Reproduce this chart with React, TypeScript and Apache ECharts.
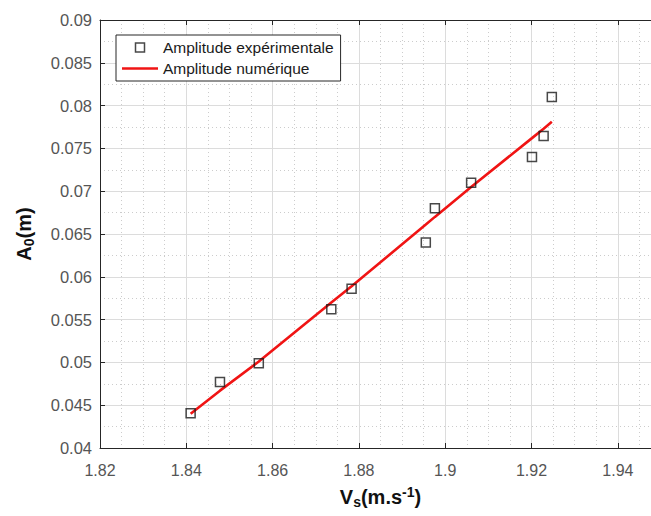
import React, { useEffect, useRef } from "react";
import * as echarts from "echarts";

const xExp = [1.841, 1.8478, 1.8568, 1.8736, 1.8783, 1.8955, 1.8976, 1.906, 1.9201, 1.9228, 1.9247];
const yExp = [0.04405, 0.0477, 0.0499, 0.0562, 0.0586, 0.064, 0.068, 0.071, 0.074, 0.07645, 0.081];
const yNum = [0.044, 0.0467, 0.0501, 0.057, 0.0589, 0.0661, 0.067, 0.0705, 0.0762, 0.0773, 0.0781];

const seriesNames = ["Amplitude expérimentale", "Amplitude numérique"];

const X_MIN = 1.82;
const X_MAX = 1.95;
const X_STEP = 0.02;
const Y_MIN = 0.04;
const Y_MAX = 0.09;
const Y_STEP = 0.005;

export default function App() {
  const ref = useRef<HTMLDivElement>(null);
  useEffect(() => {
    if (!ref.current) return;
    const chart = echarts.init(ref.current, undefined, { renderer: "svg" });
    const axisColor = "#262626";
    const labelColor = "#555555";
    const font = "Liberation Sans, Arial, Helvetica, sans-serif";
    const red = "#f01414";
    const majorGrid = { show: true, lineStyle: { color: "#dcdcdc", width: 1, type: "solid" as const } };
    const minorGrid = { show: true, lineStyle: { color: "#cccccc", width: 1, type: [1, 3] as any } };
    const nameRich = {
      b: { fontSize: 20, fontWeight: "bold", color: "#111", lineHeight: 24, fontFamily: font },
      sub: { fontSize: 14, fontWeight: "bold", color: "#111", lineHeight: 14, padding: [10, 0, 0, 0], fontFamily: font },
      sup: { fontSize: 14, fontWeight: "bold", color: "#111", lineHeight: 14, padding: [0, 0, 10, 0], fontFamily: font },
    };
    chart.setOption({
      animation: false,
      backgroundColor: "#ffffff",
      textStyle: { fontFamily: font },
      grid: { left: 100, top: 20, right: 0, bottom: 68, containLabel: false },
      legend: {
        orient: "vertical",
        left: 116,
        top: 35,
        padding: [4, 7, 4, 6],
        itemGap: 4,
        itemWidth: 36,
        itemHeight: 9,
        symbolKeepAspect: true,
        borderColor: axisColor,
        borderWidth: 1,
        borderRadius: 0,
        backgroundColor: "#ffffff",
        textStyle: { fontSize: 15.5, lineHeight: 17, color: "#1a1a1a", fontFamily: font },
        data: [
          {
            name: seriesNames[0],
            icon: "path://M0,0L10,0L10,10L0,10Z",
            itemStyle: { color: "rgba(0,0,0,0)", borderColor: "#1a1a1a", borderWidth: 1.5 },
          },
          {
            name: seriesNames[1],
            icon: "path://M0,0L36,0L36,2.6L0,2.6Z",
            itemStyle: { color: red, borderWidth: 0 },
          },
        ],
      },
      xAxis: [
        {
          type: "value",
          min: X_MIN,
          max: X_MAX,
          interval: X_STEP,
          position: "bottom",
          axisLine: { show: true, onZero: false, lineStyle: { color: axisColor, width: 1 } },
          axisTick: { show: true, inside: true, length: 5, lineStyle: { color: axisColor } },
          axisLabel: { color: labelColor, fontSize: 16, margin: 14, fontFamily: font, showMaxLabel: false },
          splitLine: majorGrid,
          minorTick: { show: false, splitNumber: 4 },
          minorSplitLine: minorGrid,
          name: "{b|V}{sub|s}{b|(m.s}{sup|-1}{b|)}",
          nameLocation: "middle",
          nameGap: 37,
          nameTextStyle: { rich: nameRich },
        },
        {
          type: "value",
          min: X_MIN,
          max: X_MAX,
          interval: X_STEP,
          position: "top",
          axisLine: { show: true, onZero: false, lineStyle: { color: axisColor, width: 1 } },
          axisTick: { show: true, inside: true, length: 5, lineStyle: { color: axisColor } },
          axisLabel: { show: false },
          splitLine: { show: false },
        },
      ],
      yAxis: [
        {
          type: "value",
          min: Y_MIN,
          max: Y_MAX,
          interval: Y_STEP,
          axisLine: { show: true, onZero: false, lineStyle: { color: axisColor, width: 1 } },
          axisTick: { show: true, inside: true, length: 5, lineStyle: { color: axisColor } },
          axisLabel: { color: labelColor, fontSize: 16.5, margin: 8, fontFamily: font },
          splitLine: majorGrid,
          minorTick: { show: false, splitNumber: 2 },
          minorSplitLine: minorGrid,
          name: "{b|A}{sub|0}{b|(m)}",
          nameLocation: "middle",
          nameRotate: 90,
          nameGap: 64,
          nameTextStyle: { rich: nameRich },
        },
      ],
      series: [
        {
          name: seriesNames[1],
          type: "line",
          data: xExp.map((x, i) => [x, yNum[i]]),
          showSymbol: false,
          symbol: "none",
          lineStyle: { color: red, width: 2.6 },
          itemStyle: { color: red },
          z: 2,
        },
        {
          name: seriesNames[0],
          type: "scatter",
          data: xExp.map((x, i) => [x, yExp[i]]),
          symbol: "rect",
          symbolSize: 9,
          itemStyle: { color: "rgba(0,0,0,0)", borderColor: "#1a1a1a", borderWidth: 1.5 },
          z: 3,
        },
      ],
    });
    return () => chart.dispose();
  }, []);
  return (
    <div
      style={{ position: "absolute", left: 0, top: 0, width: 651, height: 516, overflow: "hidden", background: "#fff" }}
    >
      <div ref={ref} style={{ width: 661, height: 516 }} />
    </div>
  );
}
